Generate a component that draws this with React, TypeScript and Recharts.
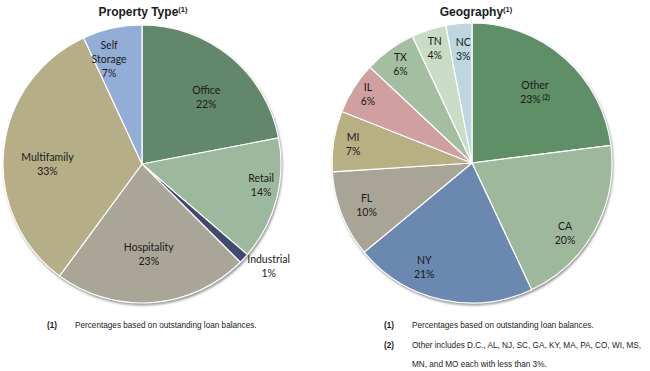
import React from "react";
import { PieChart, Pie, Cell } from "recharts";

// ---------- data ----------
const propertyNames = ["Office", "Retail", "Industrial", "Hospitality", "Multifamily", "Self Storage"];
const propertyValues = [22, 14.3, 1.2, 22.6, 33, 6.9];
const propertyColors = ["#62876a", "#9db99d", "#3f4a6e", "#a9a698", "#b5ae86", "#93aed6"];

const geoNames = ["Other", "CA", "NY", "FL", "MI", "IL", "TX", "TN", "NC"];
const geoValues = [23, 20, 21, 10, 7, 6, 6, 4, 3];
const geoColors = ["#5f8f66", "#9db89b", "#6a88b0", "#a8a597", "#b8af82", "#d09fa0", "#a3bfa0", "#c9dcc5", "#bdd7e0"];
const geoSup = ["(2)", "", "", "", "", "", "", "", ""];

const titles = ["Property Type", "Geography"];
const leftNotes = [["(1)", "Percentages based on outstanding loan balances."]];
const rightNotes = [
  ["(1)", "Percentages based on outstanding loan balances."],
  ["(2)", "Other includes D.C., AL, NJ, SC, GA, KY, MA, PA, CO, WI, MS,"],
  ["", "MN, and MO each with less than 3%."],
];

// ---------- layout ----------
const W = 650;
const H = 371;
const LEFT = { cx: 142, cy: 164, r: 139 };
const RIGHT = { cx: 472, cy: 163, r: 140 };
const propLabelR = [0.67, 0.87, 1.17, 0.65, 0.68, 0.79];
const propLabelDA = [4, -5, -4, 0, -6, -5];
const geoLabelR = [0.68, 0.83, 0.82, 0.81, 0.86, 0.89, 0.87, 0.86, 0.82];
const geoLabelDA = [0, 8, 12, 0, 0, 1, 0, 0, 1];
const LABEL_FONT = "Lato, 'Open Sans', sans-serif";
const ARIAL = "'Liberation Sans', Arial, sans-serif";

const propData = propertyNames.map((n, i) => ({ name: n, value: propertyValues[i] }));
const geoData = geoNames.map((n, i) => ({ name: n, value: geoValues[i] }));

function makeLabel(names: string[], radii: number[], dAngles: number[], sups?: string[]) {
  return (props: any) => {
    const { cx, cy, midAngle, outerRadius, index, percent } = props;
    const theta = ((90 - midAngle + dAngles[index]) * Math.PI) / 180;
    const d = outerRadius * radii[index];
    const x = cx + d * Math.sin(theta);
    const y = cy - d * Math.cos(theta);
    const lines = names[index].split(" ");
    const pct = `${Math.round(percent * 100)}%`;
    const n = lines.length + 1;
    const lh = 14;
    const y0 = y - ((n - 1) * lh) / 2 + 4;
    const sup = sups ? sups[index] : "";
    return (
      <text
        key={`l-${index}`}
        x={x}
        y={y0}
        textAnchor="middle"
        fontSize={10.5}
        fontFamily={LABEL_FONT}
        fill="#1a1a1a"
      >
        {lines.map((ln, i) => (
          <tspan key={i} x={x} dy={i === 0 ? 0 : lh}>
            {ln}
          </tspan>
        ))}
        <tspan x={x} dy={lh}>
          {pct}
        </tspan>
        {sup ? (
          <tspan fontSize={6.5} dy={-3} fontWeight="bold">
            {" " + sup}
          </tspan>
        ) : null}
      </text>
    );
  };
}

const shadowData = [{ name: "s", value: 1 }];

export default function App() {
  return (
    <div
      style={{
        position: "absolute",
        left: 0,
        top: 0,
        width: W,
        height: H,
        background: "#fff",
        overflow: "hidden",
      }}
    >
      <PieChart
        width={W}
        height={H}
        margin={{ top: 0, right: 0, bottom: 0, left: 0 }}
        style={{ position: "absolute", left: 0, top: 0 }}
      >
        <defs>
          <filter id="shBlur" x="-10%" y="-10%" width="120%" height="120%">
            <feGaussianBlur stdDeviation="1.3" />
          </filter>
        </defs>
        <Pie
          data={shadowData}
          dataKey="value"
          cx={LEFT.cx + 1}
          cy={LEFT.cy + 2}
          outerRadius={LEFT.r + 0.5}
          stroke="none"
          isAnimationActive={false}
          label={false}
        >
          <Cell fill="#9c9c9c" filter="url(#shBlur)" />
        </Pie>
        <Pie
          data={shadowData}
          dataKey="value"
          cx={RIGHT.cx + 1}
          cy={RIGHT.cy + 2}
          outerRadius={RIGHT.r + 0.5}
          stroke="none"
          isAnimationActive={false}
          label={false}
        >
          <Cell fill="#9c9c9c" filter="url(#shBlur)" />
        </Pie>
        <Pie
          data={propData}
          dataKey="value"
          nameKey="name"
          cx={LEFT.cx}
          cy={LEFT.cy}
          outerRadius={LEFT.r}
          startAngle={90}
          endAngle={-270}
          stroke="#ffffff"
          strokeWidth={1.2}
          isAnimationActive={false}
          labelLine={false}
          label={makeLabel(propertyNames, propLabelR, propLabelDA)}
        >
          {propData.map((_, i) => (
            <Cell key={i} fill={propertyColors[i]} />
          ))}
        </Pie>
        <Pie
          data={geoData}
          dataKey="value"
          nameKey="name"
          cx={RIGHT.cx}
          cy={RIGHT.cy}
          outerRadius={RIGHT.r}
          startAngle={90}
          endAngle={-270}
          stroke="#ffffff"
          strokeWidth={1.2}
          isAnimationActive={false}
          labelLine={false}
          label={makeLabel(geoNames, geoLabelR, geoLabelDA, geoSup)}
        >
          {geoData.map((_, i) => (
            <Cell key={i} fill={geoColors[i]} />
          ))}
        </Pie>
      </PieChart>

      {/* titles */}
      {[LEFT.cx + 1, RIGHT.cx + 4].map((cx, i) => (
        <div
          key={i}
          style={{
            position: "absolute",
            left: cx - 80,
            width: 160,
            top: 5,
            textAlign: "center",
            fontFamily: ARIAL,
            fontWeight: "bold",
            fontSize: 12,
            color: "#1a1a1a",
            lineHeight: "15px",
          }}
        >
          {titles[i]}
          <sup style={{ fontSize: 7.5, verticalAlign: "top", position: "relative", top: -3 }}>(1)</sup>
        </div>
      ))}

      {/* footnotes */}
      {[
        { left: 47, notes: leftNotes },
        { left: 384, notes: rightNotes },
      ].map((blk, bi) =>
        blk.notes.map((nt, i) => (
          <div
            key={`${bi}-${i}`}
            style={{
              position: "absolute",
              left: blk.left,
              top: 320 + i * 19.5,
              fontFamily: ARIAL,
              fontSize: 8.2,
              color: "#1a1a1a",
              lineHeight: "12px",
              whiteSpace: "nowrap",
            }}
          >
            <span style={{ display: "inline-block", width: 28, fontWeight: "bold" }}>{nt[0]}</span>
            <span>{nt[1]}</span>
          </div>
        ))
      )}
    </div>
  );
}
